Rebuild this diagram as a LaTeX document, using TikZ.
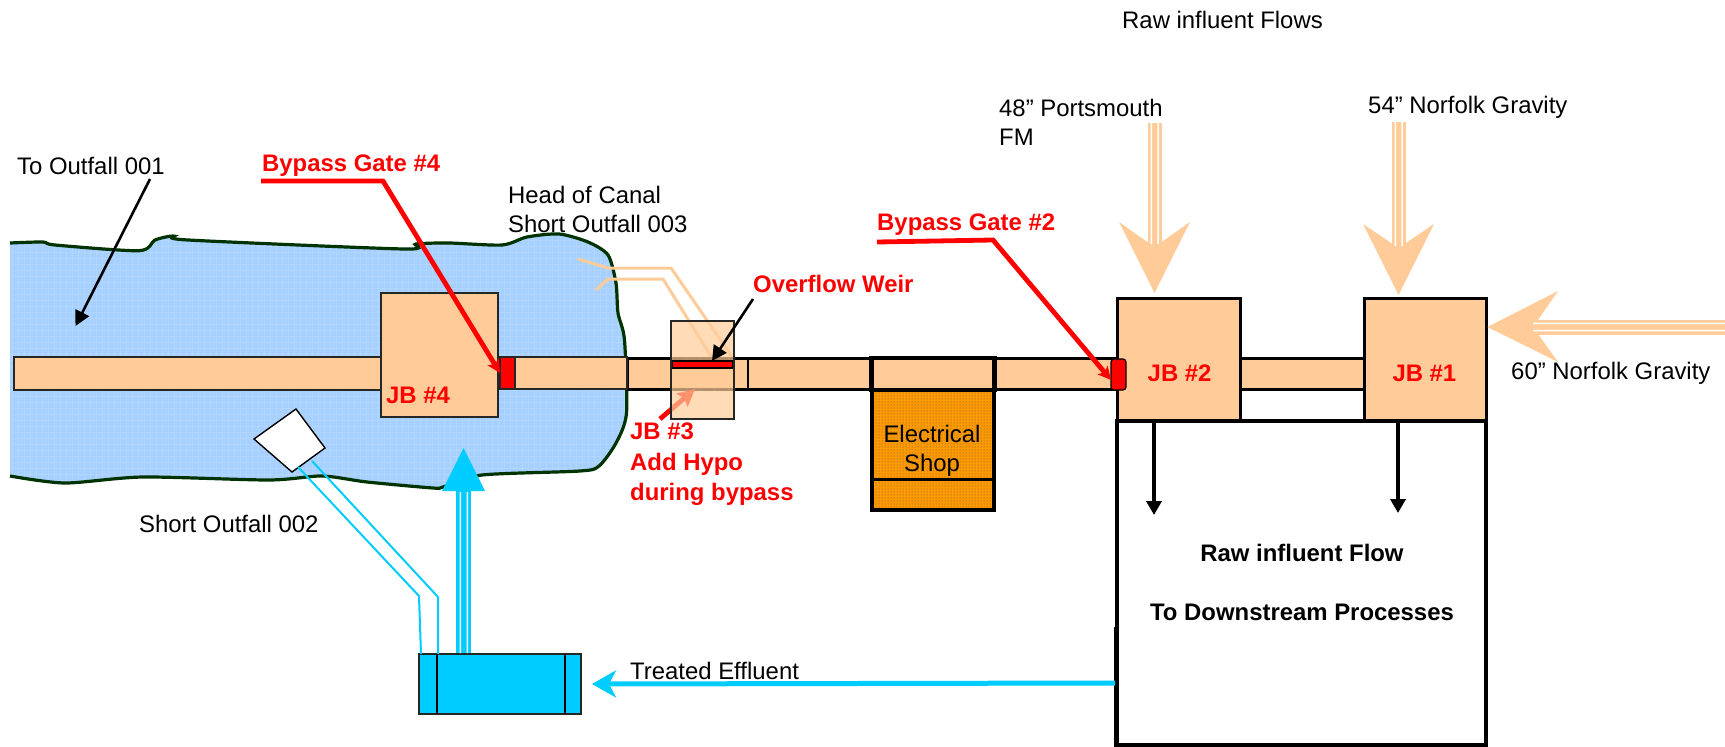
\documentclass[tikz,border=0pt]{standalone}
\usepackage{fontspec}
\setmainfont{Liberation Sans}
\usetikzlibrary{arrows.meta,patterns}
\definecolor{peach}{HTML}{FFCC99}
\definecolor{lake}{HTML}{A6D0FF}
\definecolor{shore}{HTML}{003300}
\definecolor{cyanfill}{HTML}{00CCFF}
\definecolor{shop}{HTML}{FF9900}
\def\lakepath{plot[smooth,tension=.45] coordinates {(10,243) (43,242) (55,245) (139,250.7) (155,240) (173,236) (188,240) (404,249) (416,244) (449,243) (502,245) (527,237) (559,234) (588,242) (608,255) (616,283) (618,313) (624.5,340) (626.5,413) (616,443) (599,466) (580,471) (482,475) (443,487) (433,488) (367,482) (322,476) (269,480) (143,477) (65,483) (10,476)}}
\tikzset{x=1pt,y=-1pt,
 lbl/.style={font=\fontsize{23.9}{29}\selectfont,anchor=west,align=left,inner sep=0pt,text=black},
 redlbl/.style={font=\fontsize{23.9}{30.5}\selectfont\bfseries,anchor=west,align=left,inner sep=0pt,text=red},
 boldlbl/.style={font=\fontsize{23.9}{29}\selectfont\bfseries,inner sep=0pt,text=black},
 blk/.style={anchor=north west,inner sep=0pt,outer sep=0pt},
 box/.style={blk,draw=black,fill=peach,line width=3pt},
 thinbox/.style={blk,draw=black!85,fill=peach,line width=1.6pt},
 pipeline/.style={draw=peach,line width=3pt,line join=miter},
 blueline/.style={draw=cyanfill,line width=2pt},
 ptr/.style={draw=black,line width=2.6pt,-{Triangle[length=15pt,width=15pt]}},
 redptr/.style={draw=red,line width=4.8pt,line join=miter,-{Stealth[length=13pt,width=13pt,inset=3pt]}},
}
\begin{document}
\begin{tikzpicture}
\useasboundingbox (0,0) rectangle (1725,747);
% canal water
\fill[lake] \lakepath -- cycle;
\begin{scope}
\clip \lakepath -- cycle;
\draw[white,opacity=.14,line width=.8pt] (0,230) grid[step=6pt] (640,500);
\end{scope}
\draw[shore,line width=3.2pt] \lakepath;

% thin peach pipes of the canal head
\coordinate (ca) at (578,259); \coordinate (cb) at (608,268); \coordinate (cc) at (671,268); \coordinate (cd) at (733,358);
\coordinate (ce) at (596,290); \coordinate (cf) at (608,279); \coordinate (cg) at (663,279); \coordinate (ch) at (712,358);
\draw[pipeline] (ca) -- (cb) -- (cc) -- (cd);
\draw[pipeline] (ce) -- (cf) -- (cg) -- (ch);

% main channel
\node[thinbox,minimum width=367pt,minimum height=33pt] (pipeA) at (14,357) {};
\node[box,minimum width=490pt,minimum height=31pt] (pipeB) at (627,358) {};
\node[thinbox,minimum width=112pt,minimum height=32pt] (pipeC) at (515,357) {};
\coordinate (divT) at (748,358); \coordinate (divB) at (748,389);
\draw[black,line width=2.6pt] (divT) -- (divB);
\node[box,minimum width=124pt,minimum height=31pt] (pipeD) at (1240,358) {};

% JB #4 and gate
\node[thinbox,minimum width=117pt,minimum height=124pt] (jb4) at (381,293) {};
\node[blk,draw=black!85,fill=red,line width=1.4pt,minimum width=15pt,minimum height=32pt] (gate4) at (500,357) {};

% Electrical shop
\node[blk,draw=black,fill=shop,line width=4pt,minimum width=122pt,minimum height=120pt] (shopbox) at (872,390) {};
\fill[pattern=dots,pattern color=black!65] (874,392) rectangle (992,508);
\coordinate (shopL) at (872,479); \coordinate (shopR) at (994,479);
\draw[black,line width=3pt] (shopL) -- (shopR);
\node[blk,draw=black,line width=4.2pt,minimum width=123pt,minimum height=32pt] (shoptop) at (871.5,358) {};
\node[font=\fontsize{23.9}{29}\selectfont,align=center,inner sep=0pt] (shoplbl) at (932,450.5) {Electrical\\Shop};

% JB #3
\coordinate (hypoS) at (660,419); \coordinate (hypoE) at (695,389);
\draw[draw=red,line width=4.8pt,-{Stealth[length=17pt,width=17pt,inset=3pt]}] (hypoS) -- (hypoE);
\begin{scope}
\clip (671,321) rectangle (734,419);
\draw[white,opacity=.12,line width=.8pt] (660,315) grid[step=14pt] (740,425);
\end{scope}
\node[blk,draw=black!85,fill=peach,fill opacity=.7,line width=1.8pt,minimum width=63pt,minimum height=98pt] (jb3) at (671,321) {};
\fill[peach] (672,369) rectangle (733,388);
\node[blk,draw=black,fill=red,line width=1.5pt,minimum width=60pt,minimum height=7pt] (weir) at (672.5,361) {};

% junction boxes 1 and 2
\node[box,minimum width=123pt,minimum height=122pt] (jb2) at (1117.5,298) {};
\node[box,minimum width=122.5pt,minimum height=122pt] (jb1) at (1364,298) {};
\node[blk,draw=black,fill=red,line width=1.2pt,rounded corners=3pt,minimum width=15pt,minimum height=31pt] (gate2) at (1111,359) {};

% downstream box
\node[blk,draw=black,line width=4pt,minimum width=369pt,minimum height=324pt] (big) at (1117,421) {};
\coordinate (jogT) at (1115.5,627); \coordinate (jogB) at (1115.5,747);
\draw[black,line width=4pt] (jogT) -- (jogB);
\coordinate (d2s) at (1154,421); \coordinate (d2e) at (1154,515);
\coordinate (d1s) at (1398,421); \coordinate (d1e) at (1398,513);
\draw[draw=black,line width=4pt,-{Triangle[length=14pt,width=15pt]}] (d2s) -- (d2e);
\draw[draw=black,line width=4pt,-{Triangle[length=14pt,width=15pt]}] (d1s) -- (d1e);
\node[boldlbl] (rawA) at (1302,553) {Raw influent Flow};
\node[boldlbl] (rawB) at (1302,612) {To Downstream Processes};

% inflow arrows
\fill[peach] (1119,222) -- (1154.5,247) -- (1190,222) -- (1154.5,293) -- cycle;
\fill[peach] (1148,123) rectangle (1161.5,248);
\fill[white] (1150.7,123) rectangle (1152.2,244) (1157.3,123) rectangle (1158.8,244);
\fill[peach] (1363,224) -- (1398.5,248) -- (1434,224) -- (1398.5,295) -- cycle;
\fill[peach] (1392,122) rectangle (1405.5,250);
\fill[white] (1394.7,122) rectangle (1396.2,246) (1401.3,122) rectangle (1402.8,246);
\fill[peach] (1558,291) -- (1533,327) -- (1558,362) -- (1487.4,327) -- cycle;
\fill[peach] (1532,319.5) rectangle (1725,334.5);
\fill[white] (1533,322.6) rectangle (1725,324.1) (1533,329.9) rectangle (1725,331.4);

% blue outfall
\node[blk,draw=black!85,fill=cyanfill,line width=1.6pt,minimum width=162pt,minimum height=60pt] (tank) at (419,654) {};
\coordinate (tL) at (437,654); \coordinate (tLb) at (437,714); \coordinate (tR) at (565,654); \coordinate (tRb) at (565,714);
\draw[black,line width=1.6pt] (tL) -- (tLb) (tR) -- (tRb);
\fill[cyanfill] (442,491) -- (463.5,448) -- (485,491) -- cycle;
\fill[cyanfill] (456,491) rectangle (471,653);
\fill[white] (459.5,492) rectangle (461,653) (466.5,492) rectangle (468,653);
\draw[draw=black,fill=white,line width=1.4pt] (254,439) -- (296,409) -- (325,448) -- (292,472) -- cycle;
\coordinate (bA) at (298,467); \coordinate (bB) at (419,596); \coordinate (bC) at (421,654);
\coordinate (bD) at (312,461); \coordinate (bE) at (438,597); \coordinate (bF) at (438,654);
\draw[blueline] (bA) -- (bB) -- (bC);
\draw[blueline] (bD) -- (bE) -- (bF);
\coordinate (eff) at (1115,683);
\draw[draw=cyanfill,line width=5pt,-{Stealth[length=24pt,width=27pt,inset=7pt]}] (eff) -- (tank.east -| 592,684);

% pointers
\coordinate (o1) at (150,179); \coordinate (o2) at (75.5,326);
\draw[ptr] (o1) -- (o2);
\coordinate (w1) at (753,299); \coordinate (w2) at (712,361);
\draw[ptr] (w1) -- (w2);
\coordinate (g4a) at (261,181); \coordinate (g4b) at (383,181);
\draw[redptr] (g4a) -- (g4b) -- (gate4.west);
\coordinate (g2a) at (877,242); \coordinate (g2b) at (993,240); \coordinate (g2c) at (1111,380);
\draw[redptr] (g2a) -- (g2b) -- (g2c);

% labels
\node[lbl] (t1) at (1122,20) {Raw influent Flows};
\node[lbl] (t2) at (999,122) {48" Portsmouth\\FM};
\node[lbl] (t3) at (1368,107) {54" Norfolk Gravity};
\node[lbl] (t4) at (1511,373) {60" Norfolk Gravity};
\node[lbl] (t5) at (17,166) {To Outfall 001};
\node[lbl] (t6) at (508,209.5) {Head of Canal\\Short Outfall 003};
\node[lbl] (t7) at (139,524) {Short Outfall 002};
\node[lbl] (t8) at (630,671) {Treated Effluent};
\node[redlbl] (r1) at (262,166) {Bypass Gate \#4};
\node[redlbl] (r2) at (877,225) {Bypass Gate \#2};
\node[redlbl] (r3) at (753,284) {Overflow Weir};
\node[redlbl] (r4) at (630,464.5) {JB \#3\\Add Hypo\\during bypass};
\node[redlbl] (r5) at (386,395) {JB \#4};
\node[redlbl,anchor=center] (r6) at (1179.6,373) {JB \#2};
\node[redlbl,anchor=center] (r7) at (1424.4,373) {JB \#1};
\end{tikzpicture}
\end{document}
